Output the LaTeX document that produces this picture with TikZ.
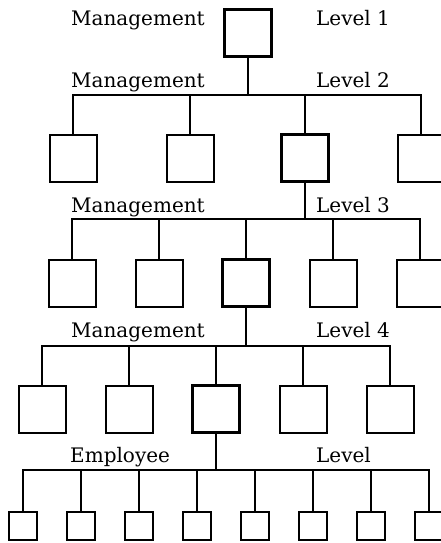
\documentclass[tikz,border=0pt]{standalone}
\usepackage{fontspec}
\setmainfont{DejaVu Serif}

\begin{document}
\begin{tikzpicture}[x=1pt, y=-1pt,
    unit/.style={draw, line width=2pt, minimum width=47pt, minimum height=47pt, inner sep=0pt},
    staff/.style={draw, line width=2pt, minimum width=28pt, minimum height=28pt, inner sep=0pt},
    lvltext/.style={anchor=base west, inner sep=0pt, font=\fontsize{20}{24}\selectfont},
    link/.style={line width=2pt}]
    \useasboundingbox (0,0) rectangle (441,543);
    \clip (0,0) rectangle (441,543);
    % bus points
    \coordinate (b2) at (248,95);
    \coordinate (b3) at (305,219);
    \coordinate (b4) at (246,346);
    \coordinate (b5) at (216,470);
    % level 1
    \node [unit, line width=2.3pt] (top) at (248,33) {};
    \node [lvltext] (m1) at (71,26) {Management};
    \node [lvltext] (v1) at (316,26) {Level 1};
    % level 2
    \node [unit] (l21) at (73,158) {};
    \node [unit] (l22) at (190,158) {};
    \node [unit, line width=2.6pt] (l23) at (305,158) {};
    \node [unit] (l24) at (421,158) {};
    \node [lvltext] (m2) at (71,87) {Management};
    \node [lvltext] (v2) at (316,87) {Level 2};
    % level 3
    \node [unit] (l31) at (72,283) {};
    \node [unit] (l32) at (159,283) {};
    \node [unit, line width=2.3pt] (l33) at (246,283) {};
    \node [unit] (l34) at (333,283) {};
    \node [unit] (l35) at (420,283) {};
    \node [lvltext] (m3) at (71,212) {Management};
    \node [lvltext] (v3) at (316,212) {Level 3};
    % level 4
    \node [unit] (l41) at (42,409) {};
    \node [unit] (l42) at (129,409) {};
    \node [unit, line width=2.3pt] (l43) at (216,409) {};
    \node [unit] (l44) at (303,409) {};
    \node [unit] (l45) at (390,409) {};
    \node [lvltext] (m4) at (71,337) {Management};
    \node [lvltext] (v4) at (316,337) {Level 4};
    % employees
    \node [staff] (e1) at (23,525.5) {};
    \node [staff] (e2) at (81,525.5) {};
    \node [staff] (e3) at (139,525.5) {};
    \node [staff] (e4) at (197,525.5) {};
    \node [staff] (e5) at (255,525.5) {};
    \node [staff] (e6) at (313,525.5) {};
    \node [staff] (e7) at (371,525.5) {};
    \node [staff] (e8) at (429,525.5) {};
    \node [lvltext] (m5) at (70,462) {Employee};
    \node [lvltext] (v5) at (316,462) {Level};
    % connectors
    \draw [link] (top.south) -- (b2) -| (l21.north);
    \draw [link] (top.south) -- (b2) -| (l22.north);
    \draw [link] (top.south) -- (b2) -| (l23.north);
    \draw [link] (top.south) -- (b2) -| (l24.north);
    \draw [link] (l23.south) -- (b3) -| (l31.north);
    \draw [link] (l23.south) -- (b3) -| (l32.north);
    \draw [link] (l23.south) -- (b3) -| (l33.north);
    \draw [link] (l23.south) -- (b3) -| (l34.north);
    \draw [link] (l23.south) -- (b3) -| (l35.north);
    \draw [link] (l33.south) -- (b4) -| (l41.north);
    \draw [link] (l33.south) -- (b4) -| (l42.north);
    \draw [link] (l33.south) -- (b4) -| (l43.north);
    \draw [link] (l33.south) -- (b4) -| (l44.north);
    \draw [link] (l33.south) -- (b4) -| (l45.north);
    \draw [link] (l43.south) -- (b5) -| (e1.north);
    \draw [link] (l43.south) -- (b5) -| (e2.north);
    \draw [link] (l43.south) -- (b5) -| (e3.north);
    \draw [link] (l43.south) -- (b5) -| (e4.north);
    \draw [link] (l43.south) -- (b5) -| (e5.north);
    \draw [link] (l43.south) -- (b5) -| (e6.north);
    \draw [link] (l43.south) -- (b5) -| (e7.north);
    \draw [link] (l43.south) -- (b5) -| (e8.north);
\end{tikzpicture}
\end{document}
